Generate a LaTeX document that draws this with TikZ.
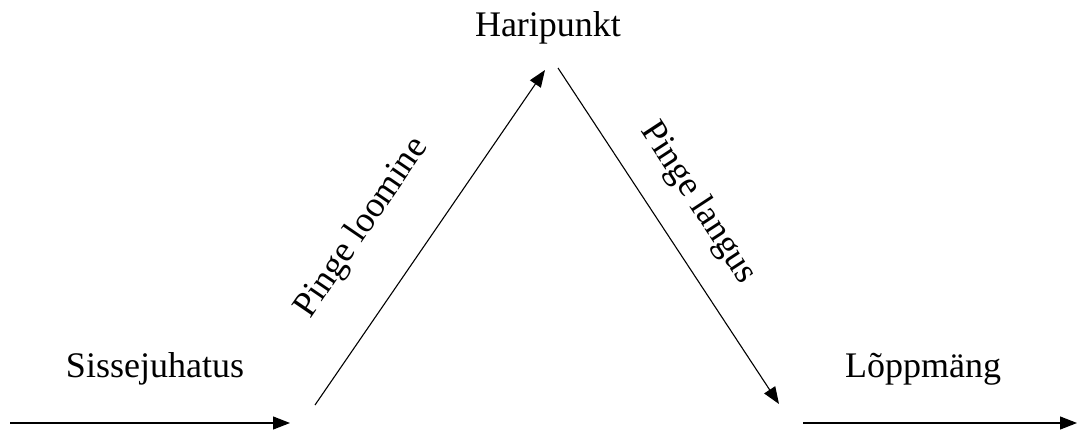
\documentclass[tikz,border=0pt]{standalone}
\usepackage{fontspec}
\setmainfont{Liberation Serif}
\usetikzlibrary{arrows.meta}
\begin{document}
\begin{tikzpicture}[x=1pt,y=-1pt,
  lbl/.style={font=\fontsize{36}{40}\selectfont, inner sep=0pt},
  conn/.style={line width=1.1pt, -{Triangle[length=17pt,width=13pt]}}]
\useasboundingbox (0,0) rectangle (1078,433);
\coordinate (l1) at (10,423);
\coordinate (l2) at (290,423);
\coordinate (u1) at (315,405);
\coordinate (u2) at (545,70);
\coordinate (d1) at (558,68);
\coordinate (d2) at (779,404);
\coordinate (r1) at (803,423);
\coordinate (r2) at (1077,423);
\node[lbl, anchor=base] (intro) at (155,377) {Sissejuhatus};
\node[lbl, anchor=base] (peak) at (548,37) {Haripunkt};
\node[lbl, anchor=base] (end) at (923,377) {Lõppmäng};
\node[lbl, rotate=55.6] (rise) at (362,228) {Pinge loomine};
\node[lbl, rotate=-56.8] (fall) at (698,203) {Pinge langus};
\draw[conn] (l1) -- (l2);
\draw[conn] (u1) -- (u2);
\draw[conn] (d1) -- (d2);
\draw[conn] (r1) -- (r2);
\end{tikzpicture}
\end{document}
